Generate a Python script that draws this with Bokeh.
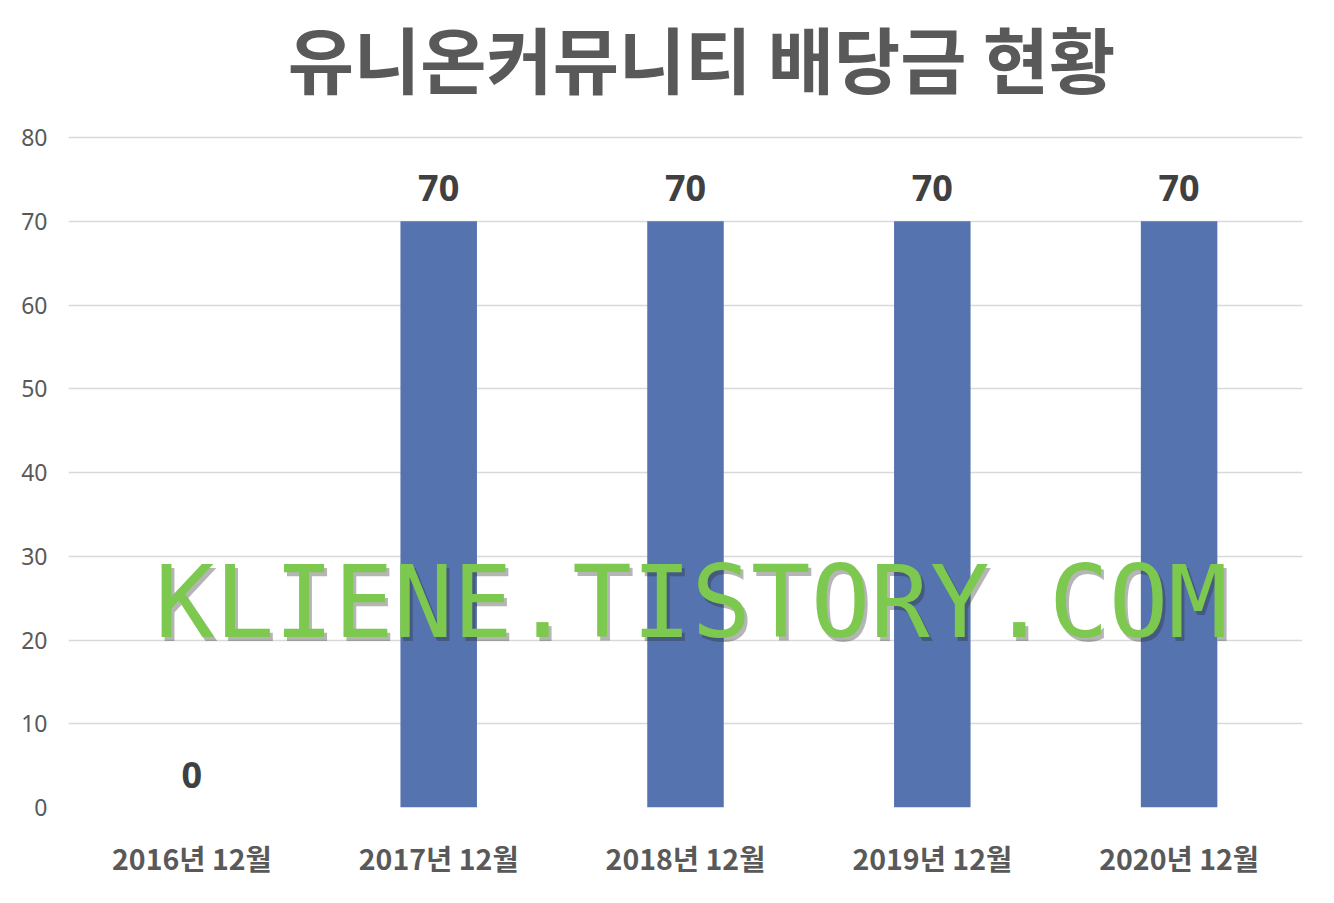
from bokeh.plotting import figure
from bokeh.models import ColumnDataSource, FactorRange, Range1d, FixedTicker
from bokeh.core.properties import value
from bokeh.embed import file_html
from bokeh.resources import INLINE

# ---- data ----
TITLE = "유니온커뮤니티 배당금 현황"
categories = ["2016년 12월", "2017년 12월", "2018년 12월", "2019년 12월", "2020년 12월"]
dividends = [0, 70, 70, 70, 70]
labels = [str(v) for v in dividends]
y_ticks = [0, 10, 20, 30, 40, 50, 60, 70, 80]
WATERMARK = "KLIENE.TISTORY.COM"
watermark_cat = "2018년 12월"
watermark_y = 24.5

# layout: frame spans the whole height above the x axis; the upper part holds the title
FIG_W, FIG_H = 1318, 887
BORDER_BOTTOM = 80
FRAME_H = FIG_H - BORDER_BOTTOM          # 807 px
TOP_GAP = 137                            # px from figure top to the 80 gridline
Y_MAX = y_ticks[-1]
Y_END = Y_MAX * FRAME_H / (FRAME_H - TOP_GAP)
TITLE_Y = Y_MAX * (FRAME_H - 56) / (FRAME_H - TOP_GAP)

source = ColumnDataSource(dict(cat=categories, val=dividends, lab=labels))

p = figure(
    width=FIG_W, height=FIG_H,
    x_range=FactorRange(*categories, range_padding=0),
    y_range=Range1d(0, Y_END),
    output_backend="svg", toolbar_location=None,
    min_border_left=68, min_border_right=16,
    min_border_top=0, min_border_bottom=BORDER_BOTTOM,
)
p.outline_line_color = None
p.background_fill_color = "white"
p.border_fill_color = "white"

# title
p.text(x=[categories[2]], y=[TITLE_Y], text=[TITLE],
       text_font=value("Noto Sans CJK KR"), text_font_size="72px",
       text_font_style="bold", text_color="#595959",
       text_align="center", text_baseline="middle", x_offset=16)

# bars
p.vbar(x="cat", top="val", width=0.31, source=source,
       fill_color="#5573AF", line_color=None)

# data labels
p.text(x="cat", y="val", text="lab", source=source,
       text_font=value("Noto Sans"), text_font_size="36px",
       text_font_style="bold", text_color="#404040",
       text_align="center", text_baseline="middle", y_offset=-33)

# watermark (shadow + text)
p.text(x=[watermark_cat], y=[watermark_y], text=[WATERMARK],
       text_font=value("DejaVu Sans Mono"), text_font_size="99px",
       text_color="#2b2b2b", text_alpha=0.35,
       text_align="center", text_baseline="middle",
       x_offset=9, y_offset=4)
p.text(x=[watermark_cat], y=[watermark_y], text=[WATERMARK],
       text_font=value("DejaVu Sans Mono"), text_font_size="99px",
       text_color="#7DC84E",
       text_align="center", text_baseline="middle",
       x_offset=6, y_offset=0)

# axes
p.yaxis.ticker = FixedTicker(ticks=y_ticks)
p.yaxis.axis_line_color = None
p.yaxis.major_tick_line_color = None
p.yaxis.minor_tick_line_color = None
p.yaxis.major_label_standoff = 15
p.yaxis.major_label_text_font = "Noto Sans"
p.yaxis.major_label_text_font_size = "23px"
p.yaxis.major_label_text_color = "#595959"

p.xaxis.axis_line_color = None
p.xaxis.major_tick_line_color = None
p.xaxis.minor_tick_line_color = None
p.xaxis.major_label_standoff = 23
p.xaxis.major_label_text_font = "Noto Sans CJK KR"
p.xaxis.major_label_text_font_size = "28.5px"
p.xaxis.major_label_text_font_style = "bold"
p.xaxis.major_label_text_color = "#595959"

# grid
p.xgrid.grid_line_color = None
p.ygrid.grid_line_color = "#D9D9D9"
p.ygrid.grid_line_width = 1.5

open("out.html", "w").write(file_html(p, INLINE))
